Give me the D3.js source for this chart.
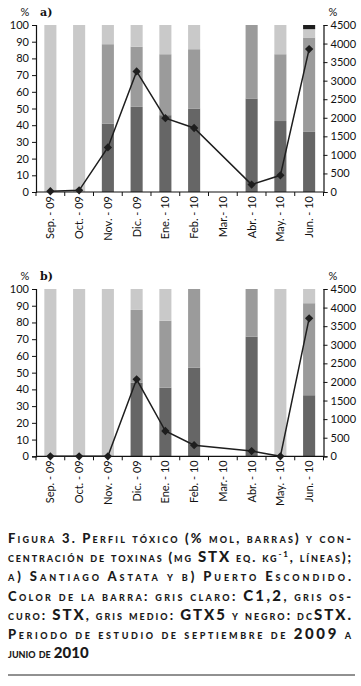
<!DOCTYPE html>
<html>
<head>
<meta charset="utf-8">
<script src="https://cdn.jsdelivr.net/npm/d3@7"></script>
<style>
  body { margin: 0; background: #fff; }
  svg { display: block; }
</style>
</head>
<body>
<script>
const months = ["Sep. - 09", "Oct. - 09", "Nov. - 09", "Dic. - 09", "Ene. - 10", "Feb. - 10", "Mar.- 10", "Abr. - 10", "May. - 10", "Jun. - 10"]
const leftTicks = [0, 10, 20, 30, 40, 50, 60, 70, 80, 90, 100]
const rightTicks = [0, 500, 1000, 1500, 2000, 2500, 3000, 3500, 4000, 4500]

// a) Santiago Astata, % mol (null = no sample)
const stxA   = [0, 0, 41, 51, 46, 50, null, 56, 42.5, 36]
const gtx5A  = [0, 0, 47.5, 36, 36.5, 35.5, null, 44, 40, 56.5]
const c12A   = [100, 100, 11.5, 13, 17.5, 14.5, null, 0, 17.5, 5]
const dcstxA = [0, 0, 0, 0, 0, 0, null, 0, 0, 2.5]
const toxA   = [20, 45, 1200, 3250, 1990, 1725, null, 200, 450, 3850]

// b) Puerto Escondido
const stxB   = [0, 0, 0, 44, 41, 53, null, 71.5, 0, 36.5]
const gtx5B  = [0, 0, 0, 43.5, 40, 47, null, 28.5, 0, 55]
const c12B   = [100, 100, 100, 12.5, 19, 0, null, 0, 100, 8.5]
const dcstxB = [0, 0, 0, 0, 0, 0, null, 0, 0, 0]
const toxB   = [0, 0, 0, 2070, 680, 300, null, 140, 0, 3710]

const seriesKeys = ["stx", "gtx5", "c12", "dcstx"]
const colors = { stx: "#666666", gtx5: "#9b9b9b", c12: "#c9c9c9", dcstx: "#1e1e1e" }

const width = 361, height = 686
const svg = d3.select("body").append("svg")
  .attr("width", width)
  .attr("height", height)
  .style("font-family", "Lato, 'Open Sans', sans-serif")

const x = d3.scaleBand().domain(months).range([36, 323.5]).paddingInner(0.58).paddingOuter(0.29)

function buildRows(stx, gtx5, c12, dcstx) {
  return months.map((m, i) => ({ month: m, stx: stx[i] || 0, gtx5: gtx5[i] || 0, c12: c12[i] || 0, dcstx: dcstx[i] || 0 }))
}

function drawPanel(rows, tox, label, top, bottom) {
  const g = svg.append("g")
  const y = d3.scaleLinear().domain([0, 100]).range([bottom, top])
  const y2 = d3.scaleLinear().domain([0, 4500]).range([bottom, top])

  // stacked bars
  const stacked = d3.stack().keys(seriesKeys)(rows)
  g.selectAll(".layer")
    .data(stacked)
    .enter()
    .append("g")
    .attr("fill", d => colors[d.key])
    .selectAll("rect")
    .data(d => d)
    .enter()
    .append("rect")
    .attr("x", d => x(d.data.month))
    .attr("width", x.bandwidth())
    .attr("y", d => y(d[1]))
    .attr("height", d => Math.max(0, y(d[0]) - y(d[1])))

  // left axis
  const leftAxis = g.append("g")
    .attr("transform", `translate(${x.range()[0]},0)`)
    .call(d3.axisLeft(y).tickValues(leftTicks).tickSize(4).tickSizeOuter(4).tickPadding(3))
  // right axis
  const rightAxis = g.append("g")
    .attr("transform", `translate(${x.range()[1]},0)`)
    .call(d3.axisRight(y2).tickValues(rightTicks).tickFormat(d3.format("d")).tickSize(4).tickSizeOuter(4).tickPadding(3))

  // bottom axis with ticks at band boundaries
  const xAxis = g.append("g").attr("transform", `translate(0,${bottom})`)
  xAxis.append("line")
    .attr("x1", x.range()[0]).attr("x2", x.range()[1])
    .attr("stroke", "#111").attr("stroke-width", 1.2)
  const bounds = months.map(m => x(m) - x.step() * x.paddingInner() / 2 - 0.01).concat([x.range()[1]])
  bounds[0] = x.range()[0]
  xAxis.selectAll(".xt")
    .data(bounds)
    .enter()
    .append("line")
    .attr("x1", d => d).attr("x2", d => d)
    .attr("y1", 0).attr("y2", 4)
    .attr("stroke", "#111").attr("stroke-width", 1)
  xAxis.selectAll(".xl")
    .data(months)
    .enter()
    .append("text")
    .attr("transform", d => `translate(${x(d) + x.bandwidth() / 2 + 4},4) rotate(-90)`)
    .attr("text-anchor", "end")
    .style("font-size", "11px")
    .style("fill", "#111")
    .text(d => d)

  ;[leftAxis, rightAxis].forEach(ax => {
    ax.select(".domain").attr("stroke", "#111").attr("stroke-width", 1.2)
    ax.selectAll(".tick line").attr("stroke", "#111")
    ax.selectAll("text").style("font-size", "11px").style("fill", "#111").style("font-family", "Lato, sans-serif")
  })

  // toxin line
  const pts = months.map((m, i) => ({ month: m, v: tox[i] })).filter(d => d.v !== null)
  const line = d3.line()
    .x(d => x(d.month) + x.bandwidth() / 2)
    .y(d => y2(d.v))
  g.append("path")
    .datum(pts)
    .attr("d", line)
    .attr("fill", "none")
    .attr("stroke", "#1e1e1e")
    .attr("stroke-width", 1.5)
  g.selectAll(".pt")
    .data(pts)
    .enter()
    .append("path")
    .attr("d", d3.symbol(d3.symbolDiamond2, 44))
    .attr("transform", d => `translate(${x(d.month) + x.bandwidth() / 2},${y2(d.v)})`)
    .attr("fill", "#1e1e1e")

  // labels
  g.append("text").attr("x", 25).attr("y", top - 9).attr("text-anchor", "middle")
    .style("font-size", "11px").style("fill", "#111").text("%")
  g.append("text").attr("x", 333).attr("y", top - 9).attr("text-anchor", "middle")
    .style("font-size", "11px").style("fill", "#111").text("%")
  g.append("text").attr("x", 40).attr("y", top - 9)
    .style("font-size", "11px").style("font-weight", "bold")
    .style("font-family", "'DejaVu Serif', serif").style("fill", "#111").text(label)
}

drawPanel(buildRows(stxA, gtx5A, c12A, dcstxA), toxA, "a)", 25, 192)
drawPanel(buildRows(stxB, gtx5B, c12B, dcstxB), toxB, "b)", 289, 456.3)

// caption
const captionLines = [
  [["Figura 3. Perfil tóxico (% mol, barras) y con-"]],
  [["centración de toxinas (mg "], ["STX", "big"], [" eq. kg"], ["-1", "sup"], [", líneas);"]],
  [["a) Santiago Astata y b) Puerto Escondido."]],
  [["Color de la barra: gris claro: "], ["C1,2", "big"], [", gris os-"]],
  [["curo: "], ["STX", "big"], [", gris medio: "], ["GTX5", "big"], [" y negro: dc"], ["STX.", "big"]],
  [["Periodo de estudio de septiembre de "], ["2009", "big"], [" a"]],
  [["junio de "], ["2010", "big"]]
]
const cap = svg.append("g")
  .style("font-family", "Lato, sans-serif")
  .style("font-weight", "900")
  .style("font-variant", "small-caps")
  .style("fill", "#1a1a1a")
captionLines.forEach((parts, i) => {
  const t = cap.append("text")
    .attr("x", 8)
    .attr("y", 543 + i * 19.2)
    .style("font-size", "13px")
  if (i < captionLines.length - 1) {
    t.attr("textLength", 343).attr("lengthAdjust", "spacing")
  }
  parts.forEach(([s, kind]) => {
    const ts = t.append("tspan").text(s)
    if (kind === "big") ts.style("font-size", "15px")
    if (kind === "sup") ts.attr("baseline-shift", "super").style("font-size", "8px")
  })
})
svg.append("line")
  .attr("x1", 8).attr("x2", 355)
  .attr("y1", 675).attr("y2", 675)
  .attr("stroke", "#222").attr("stroke-width", 1)
</script>
</body>
</html>
